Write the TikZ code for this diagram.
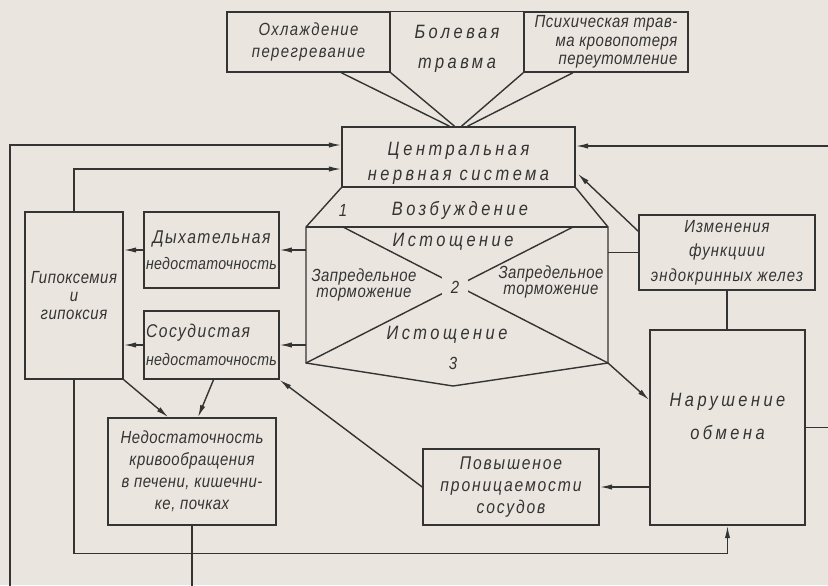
\documentclass[tikz,border=0pt]{standalone}
\usepackage{fontspec}
\setmainfont{Liberation Sans}[FakeStretch=0.85, LetterSpace=3]
\usetikzlibrary{positioning, arrows.meta, calc}

\definecolor{paper}{RGB}{234,230,223}
\definecolor{ink}{RGB}{52,52,52}

\begin{document}
\begin{tikzpicture}[
  x=0.02cm, y=-0.02cm,
  every node/.style={text=ink, font=\itshape\fontsize{10}{12}\selectfont},
  box/.style={draw=ink, line width=0.9pt, align=center, inner sep=1pt},
  wide/.style={font=\itshape\fontsize{11}{14}\selectfont\addfontfeature{LetterSpace=18}},
  arrow/.style={-{Latex[length=7pt,width=3pt]}, line width=0.8pt, draw=ink},
  link/.style={line width=0.8pt, draw=ink}
]
  \useasboundingbox (0,0) rectangle (828,585);
  \fill[paper] (0,0) rectangle (828,585);
  \clip (0,0) rectangle (828,585);

  % causes
  \node[box, minimum width=3.26cm, minimum height=1.2cm, font=\itshape\fontsize{10}{13}\selectfont\addfontfeature{LetterSpace=8}] (cool) at (308.5,42) {Охлаждение\\перегревание};
  \node[align=center, minimum width=2.68cm, font=\itshape\fontsize{11}{17}\selectfont\addfontfeature{LetterSpace=18}] (pain) at (457,49) {Болевая\\травма};
  \node[box, align=right, minimum width=3.28cm, minimum height=1.2cm, font=\itshape\fontsize{10}{10.5}\selectfont] (psych) at (606,42) {Психическая трав-\\ма кровопотеря\\переутомление};
  \draw[link] (cool.north east) -- (psych.north west);

  \node[box, wide, minimum width=4.66cm, minimum height=1.2cm] (cns) at (458.5,157) {\rule{0pt}{15pt}Центральная\\нервная система};

  \draw[link] ($(cool.south east)!0.3!(cool.south west)$) -- ($(cns.north)+(-9,0)$);
  \draw[link] (cool.south east) -- ($(cns.north)+(-4,0)$);
  \draw[link] (psych.south west) -- ($(cns.north)+(3,0)$);
  \draw[link] ($(psych.south west)!0.3!(psych.south east)$) -- ($(cns.north)+(9,0)$);

  % phases of the nervous system
  \coordinate (hnw) at (306,227);
  \coordinate (hne) at (608,227);
  \coordinate (hsw) at (306,363);
  \coordinate (hse) at (608,363);
  \coordinate (hb) at (453,386);
  \draw[link] (cns.south west) -- (hnw) -- (hsw) -- (hb) -- (hse) -- (hne) -- (cns.south east);
  \draw[link] (hnw) -- (hne);
  \draw[link] (343,227) -- (hse);
  \draw[link] (573,227) -- (hsw);
  \node[fill=paper, inner sep=5pt] (two) at (455,287) {2};

  \node (one) at (343,210) {1};
  \node[wide] (exc) at (460,210) {Возбуждение};
  \node[wide] (exh1) at (453,242) {Истощение};
  \node[align=center, font=\itshape\fontsize{10}{9}\selectfont] (inhl) at (364,285) {Запредельное\\торможение};
  \node[align=center, font=\itshape\fontsize{10}{9}\selectfont] (inhr) at (551,282) {Запредельное\\торможение};
  \node[wide] (exh2) at (447,335) {Истощение};
  \node (three) at (453,363) {3};

  % consequences
  \node[box, minimum width=1.96cm, minimum height=3.34cm, font=\itshape\fontsize{10}{10.5}\selectfont] (hyp) at (74,295.5) {Гипоксемия\\и\\гипоксия};
  \node[box, minimum width=2.58cm, minimum height=1.52cm, font=\itshape\fontsize{9.5}{15}\selectfont\addfontfeature{LetterSpace=2}] (resp) at (211.5,250) {{\fontsize{10.5}{15}\selectfont\addfontfeature{LetterSpace=8}Дыхательная}\\недостаточность};
  \node[box, align=left, minimum width=2.58cm, minimum height=1.36cm, font=\itshape\fontsize{9.5}{16}\selectfont\addfontfeature{LetterSpace=2}] (vasc) at (211.5,345) {{\fontsize{10.5}{16}\selectfont\addfontfeature{LetterSpace=8}Сосудистая}\\недостаточность};
  \node[box, minimum width=3.36cm, minimum height=2.14cm, font=\itshape\fontsize{10}{12.5}\selectfont] (circ) at (192,471.5) {Недостаточность\\кривообращения\\в печени, кишечни-\\ке, почках};
  \node[box, minimum width=3.52cm, minimum height=1.52cm, font=\itshape\fontsize{10.5}{12.5}\selectfont\addfontfeature{LetterSpace=10}] (perm) at (511,487) {Повышеное\\проницаемости\\сосудов};
  \node[box, minimum width=3.1cm, minimum height=3.9cm, font=\itshape\fontsize{11}{18.5}\selectfont\addfontfeature{LetterSpace=18}] (meta) at (727.5,427.5) {Нарушение\\обмена\rule[-12.5pt]{0pt}{12.5pt}};
  \node[box, minimum width=3.52cm, minimum height=1.5cm, font=\itshape\fontsize{10}{14}\selectfont\addfontfeature{LetterSpace=6}] (endo) at (727,252.5) {Изменения\\функциии\\эндокринных желез};

  % feedback loops
  \draw[arrow] (circ.south) |- (10,600) |- ($(cns.west)+(0,-12)$);
  \draw[arrow] (hyp.north) |- ($(cns.west)+(0,12)$);
  \draw[arrow] (hyp.south) |- ($(meta.south)+(0,28)$) -- (meta.south);
  \draw[arrow] (meta.east) -| (840,146) -- ($(cns.east)+(0,-11)$);

  \draw[arrow] (resp.west) -- (resp.west -| hyp.east);
  \draw[arrow] (vasc.west) -- (vasc.west -| hyp.east);
  \draw[arrow] (resp.east -| hnw) -- (resp.east);
  \draw[arrow] (vasc.east -| hnw) -- (vasc.east);
  \draw[arrow] (hyp.south east) -- ($(circ.north west)!0.36!(circ.north east)$);
  \draw[arrow] ($(vasc.south)+(2,0)$) -- ($(circ.north)+(6,0)$);
  \draw[arrow] (perm.west) -- (vasc.south east);
  \draw[arrow] (meta.west |- perm.east) -- (perm.east);
  \draw[arrow] (hse) -- ($(meta.north west)!0.36!(meta.south west)$);
  \draw[arrow] ($(endo.north west)+(0,17)$) -- ($(cns.south east)+(2,-14)$);
  \draw[link] (hne |- endo.west) -- (endo.west);
  \draw[link] (endo.south) -- (endo.south |- meta.north);
\end{tikzpicture}
\end{document}
